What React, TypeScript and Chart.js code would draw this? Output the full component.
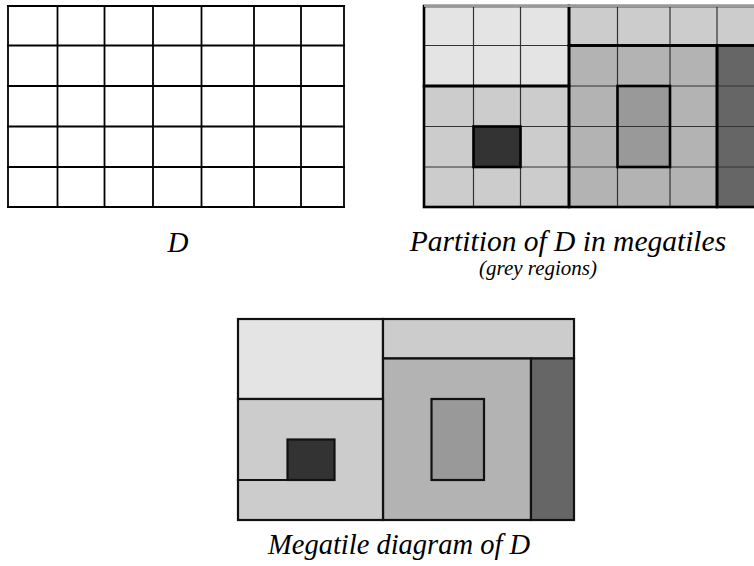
import React, { useEffect, useRef } from "react";
import { Chart, registerables } from "chart.js";

Chart.register(...registerables);

// Column / row boundaries of the domain D (grid units)
const colEdges = [0, 49.5, 96.5, 145, 193.5, 246, 293, 336];
const rowEdges = [0, 39.5, 80, 120.5, 161, 201];

// Megatiles
const tileIds = ["A", "B", "C", "E", "F", "G", "H"];
const tileColors = ["#e4e4e4", "#cccccc", "#b3b3b3", "#666666", "#cccccc", "#999999", "#333333"];
const tileCol0 = [0, 3, 3, 6, 0, 4, 1];
const tileCol1 = [3, 7, 6, 7, 3, 5, 2];
const tileRow0 = [0, 0, 1, 1, 2, 2, 3];
const tileRow1 = [2, 1, 5, 5, 5, 4, 4];

// Which megatile each cell of D belongs to
const cellTiles = [
  "AAABBBB",
  "AAACCCE",
  "FFFCGCE",
  "FHFCGCE",
  "FFFCCCE",
];

// extra boundary segment drawn inside megatile F in the diagram
const segCols = [0, 1];
const segRow = 4;

const titleD = "D";
const titlePartition = "Partition of D in megatiles";
const subtitlePartition = "(grey regions)";
const titleDiagram = "Megatile diagram of D";

const PAD = 4;
const GRID_W = colEdges[colEdges.length - 1];
const GRID_H = rowEdges[rowEdges.length - 1];

type Kind = "grid" | "partition" | "diagram";

function drawPlugin(kind: Kind) {
  return {
    id: "domainDraw_" + kind,
    afterDraw(chart: any) {
      const ctx: CanvasRenderingContext2D = chart.ctx;
      const xs = chart.scales.x;
      const ys = chart.scales.y;
      const X = (c: number) => xs.getPixelForValue(colEdges[c]);
      const Y = (r: number) => ys.getPixelForValue(rowEdges[r]);
      const nC = colEdges.length - 1;
      const nR = rowEdges.length - 1;
      ctx.save();
      ctx.lineCap = "square";
      ctx.lineJoin = "miter";

      const hLine = (r: number, c0: number, c1: number) => {
        ctx.beginPath();
        ctx.moveTo(X(c0), Y(r));
        ctx.lineTo(X(c1), Y(r));
        ctx.stroke();
      };
      const vLine = (c: number, r0: number, r1: number) => {
        ctx.beginPath();
        ctx.moveTo(X(c), Y(r0));
        ctx.lineTo(X(c), Y(r1));
        ctx.stroke();
      };

      if (kind === "grid") {
        ctx.strokeStyle = "#000";
        ctx.lineWidth = 1.8;
        for (let c = 0; c <= nC; c++) vLine(c, 0, nR);
        for (let r = 0; r <= nR; r++) hLine(r, 0, nC);
      } else if (kind === "partition") {
        for (let r = 0; r < nR; r++) {
          for (let c = 0; c < nC; c++) {
            const t = tileIds.indexOf(cellTiles[r][c]);
            ctx.fillStyle = tileColors[t];
            ctx.fillRect(X(c), Y(r), X(c + 1) - X(c), Y(r + 1) - Y(r));
          }
        }
        ctx.strokeStyle = "#333";
        ctx.lineWidth = 1.2;
        for (let c = 0; c <= nC; c++) vLine(c, 0, nR);
        for (let r = 0; r <= nR; r++) hLine(r, 0, nC);
        ctx.strokeStyle = "#000";
        ctx.lineWidth = 2.6;
        for (let i = 0; i < tileIds.length; i++) {
          ctx.strokeRect(
            X(tileCol0[i]),
            Y(tileRow0[i]),
            X(tileCol1[i]) - X(tileCol0[i]),
            Y(tileRow1[i]) - Y(tileRow0[i])
          );
        }
        ctx.strokeStyle = "#999";
        ctx.lineWidth = 2.2;
        ctx.lineCap = "butt";
        hLine(0, 0, nC);
      } else {
        ctx.strokeStyle = "#111";
        ctx.lineWidth = 2.2;
        for (let i = 0; i < tileIds.length; i++) {
          const x0 = X(tileCol0[i]);
          const y0 = Y(tileRow0[i]);
          const w = X(tileCol1[i]) - x0;
          const h = Y(tileRow1[i]) - y0;
          ctx.fillStyle = tileColors[i];
          ctx.fillRect(x0, y0, w, h);
          ctx.strokeRect(x0, y0, w, h);
        }
        hLine(segRow, segCols[0], segCols[1]);
      }
      ctx.restore();
    },
  };
}

function Panel({ kind, left, top }: { kind: Kind; left: number; top: number }) {
  const ref = useRef<HTMLCanvasElement | null>(null);
  useEffect(() => {
    if (!ref.current) return;
    const chart = new Chart(ref.current, {
      type: "scatter",
      data: { datasets: [] },
      options: {
        responsive: false,
        animation: false,
        events: [],
        devicePixelRatio: 1,
        layout: { padding: PAD },
        plugins: {
          legend: { display: false },
          tooltip: { enabled: false },
          title: { display: false },
        },
        scales: {
          x: { type: "linear", min: 0, max: GRID_W, display: false },
          y: { type: "linear", min: 0, max: GRID_H, reverse: true, display: false },
        },
      },
      plugins: [drawPlugin(kind)],
    } as any);
    return () => chart.destroy();
  }, [kind]);
  return (
    <canvas
      ref={ref}
      width={GRID_W + 2 * PAD}
      height={GRID_H + 2 * PAD}
      style={{
        position: "absolute",
        left: left - PAD,
        top: top - PAD,
        width: GRID_W + 2 * PAD,
        height: GRID_H + 2 * PAD,
      }}
    />
  );
}

function Label({ text, cx, baseline, size }: { text: string; cx: number; baseline: number; size: number }) {
  return (
    <div
      style={{
        position: "absolute",
        left: cx,
        top: baseline - 0.8375 * size,
        transform: "translateX(-50%)",
        fontFamily: "'Liberation Serif', 'DejaVu Serif', serif",
        fontStyle: "italic",
        fontSize: size,
        lineHeight: 1,
        whiteSpace: "nowrap",
        color: "#000",
      }}
    >
      {text}
    </div>
  );
}

export default function App() {
  return (
    <div
      style={{
        position: "absolute",
        left: 0,
        top: 0,
        width: 754,
        height: 566,
        overflow: "hidden",
        background: "#fff",
      }}
    >
      <Panel kind="grid" left={8} top={5.7} />
      <Panel kind="partition" left={424} top={5.7} />
      <Panel kind="diagram" left={238} top={318.5} />
      <Label text={titleD} cx={178} baseline={252} size={29} />
      <Label text={titlePartition} cx={568} baseline={252} size={29.5} />
      <Label text={subtitlePartition} cx={538} baseline={276} size={21} />
      <Label text={titleDiagram} cx={399} baseline={555} size={28.5} />
    </div>
  );
}
